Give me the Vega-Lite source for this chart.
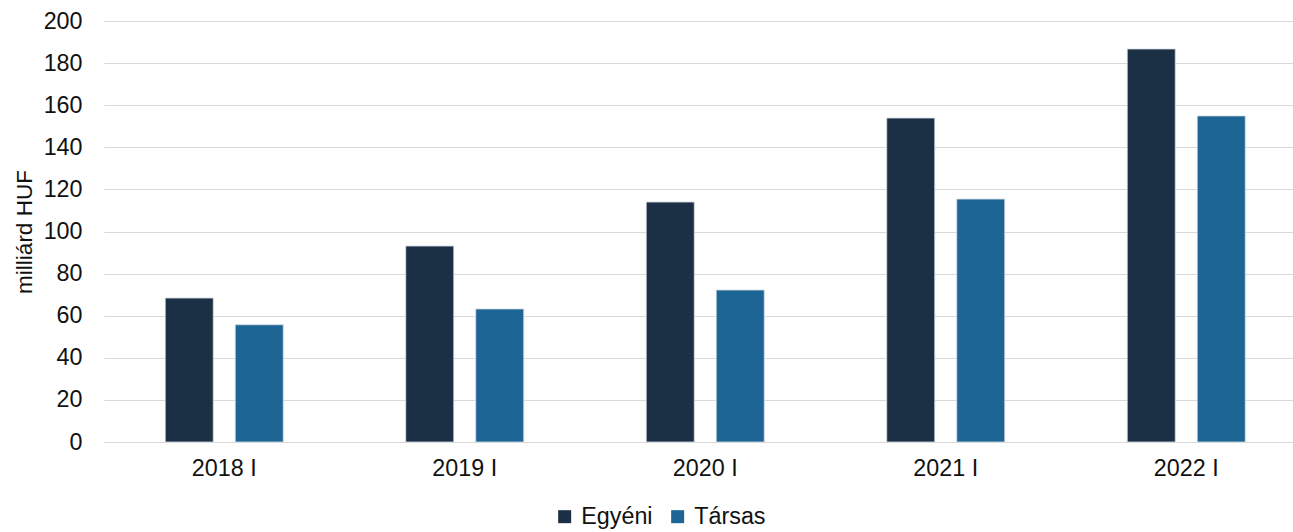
{
  "$schema": "https://vega.github.io/schema/vega-lite/v6.json",
  "width": 1189,
  "height": 421,
  "autosize": {"type": "none"},
  "padding": {"left": 104, "top": 21, "right": 0, "bottom": 90},
  "background": "white",
  "config": {
    "font": "Liberation Sans",
    "view": {"stroke": null},
    "axis": {"labelColor": "#111111", "titleColor": "#111111"}
  },
  "data": {
    "values": [
      {"year": "2018 I", "type": "Egyéni", "value": 68.4},
      {"year": "2018 I", "type": "Társas", "value": 55.7},
      {"year": "2019 I", "type": "Egyéni", "value": 93.1},
      {"year": "2019 I", "type": "Társas", "value": 63.2},
      {"year": "2020 I", "type": "Egyéni", "value": 114.0},
      {"year": "2020 I", "type": "Társas", "value": 72.2},
      {"year": "2021 I", "type": "Egyéni", "value": 153.9},
      {"year": "2021 I", "type": "Társas", "value": 115.4},
      {"year": "2022 I", "type": "Egyéni", "value": 186.7},
      {"year": "2022 I", "type": "Társas", "value": 154.9}
    ]
  },
  "mark": {"type": "bar", "stroke": "#d5dde6", "strokeWidth": 0.8},
  "encoding": {
    "x": {
      "field": "year",
      "type": "nominal",
      "scale": {"paddingInner": 0, "paddingOuter": 0, "range": [0, 1202.5]},
      "axis": {
        "title": null,
        "labelAngle": 0,
        "labelFontSize": 23.3,
        "labelPadding": 15,
        "ticks": false,
        "domain": false
      }
    },
    "xOffset": {
      "field": "type",
      "type": "nominal",
      "scale": {"paddingInner": 0.314, "paddingOuter": 0.875}
    },
    "y": {
      "field": "value",
      "type": "quantitative",
      "scale": {"domain": [0, 200], "nice": false},
      "axis": {
        "title": "milliárd HUF",
        "titleFontSize": 22.5,
        "titleFontWeight": "normal",
        "titlePadding": 7,
        "values": [0, 20, 40, 60, 80, 100, 120, 140, 160, 180, 200],
        "labelFontSize": 23.3,
        "labelPadding": 22,
        "ticks": false,
        "domain": false,
        "gridColor": "#d9d9d9",
        "gridWidth": 1
      }
    },
    "color": {
      "field": "type",
      "type": "nominal",
      "scale": {"domain": ["Egyéni", "Társas"], "range": ["#1b3045", "#1d6594"]},
      "legend": {
        "title": null,
        "orient": "none",
        "direction": "horizontal",
        "legendX": 449,
        "legendY": 484,
        "symbolType": "square",
        "symbolSize": 169,
        "symbolStrokeWidth": 0,
        "labelFontSize": 23.3,
        "labelColor": "#111111",
        "labelOffset": 5,
        "columnPadding": 13
      }
    }
  }
}
